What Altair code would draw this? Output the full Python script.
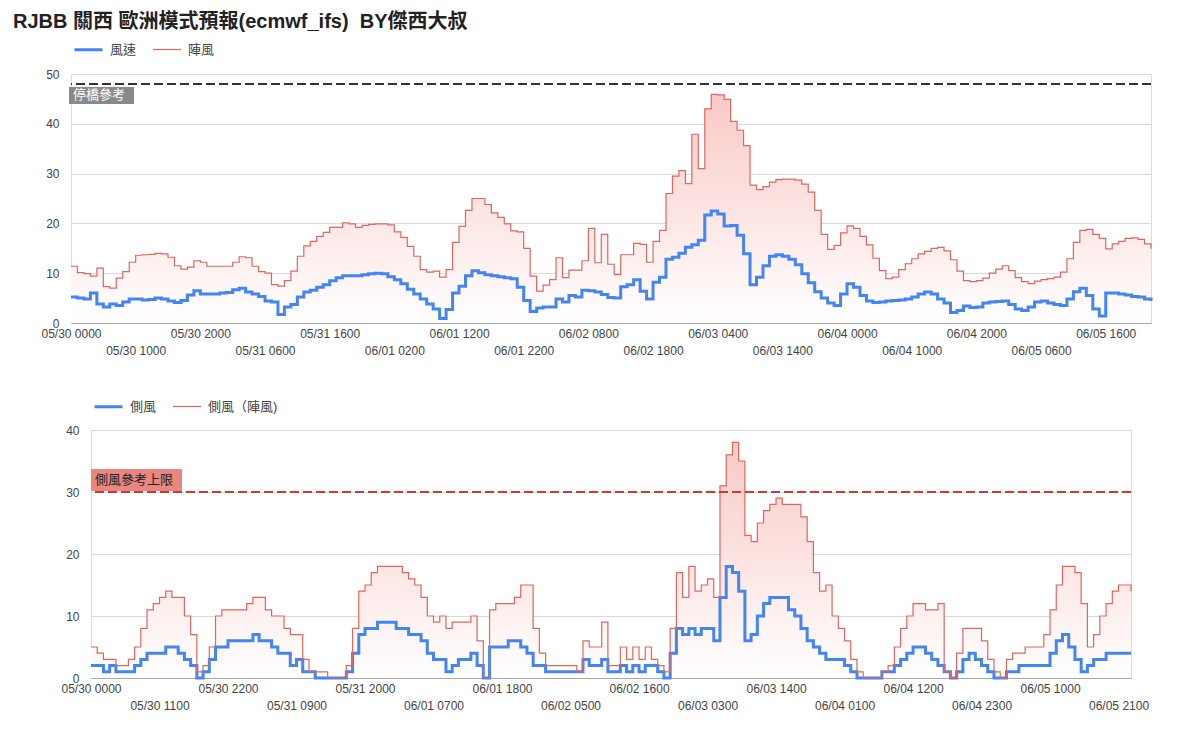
import json
import altair as alt
import pandas as pd

# ---------------- data (hourly, 05/30 00:00 -> 06/05 23:00) ----------------
hours = list(range(168))

wind = [5.2, 5.0, 4.8, 6.0, 3.8, 3.2, 3.8, 3.5, 4.2, 4.8,
        4.8, 4.6, 4.7, 5.0, 4.8, 4.4, 4.1, 4.5, 5.6, 6.5,
        5.8, 5.8, 5.8, 6.0, 6.1, 6.7, 7.0, 6.2, 5.8, 5.3,
        4.4, 4.2, 1.7, 3.2, 3.7, 5.2, 6.2, 6.6, 7.2, 7.7,
        8.5, 9.1, 9.5, 9.5, 9.5, 9.7, 9.9, 10.0, 9.9, 9.3,
        8.7, 7.9, 6.8, 5.8, 4.8, 3.8, 2.8, 0.9, 2.7, 6.0,
        7.4, 9.5, 10.5, 10.1, 9.7, 9.5, 9.3, 9.1, 8.9, 7.2,
        4.5, 2.3, 3.0, 3.2, 3.2, 4.8, 4.2, 5.5, 5.2, 6.6,
        6.5, 6.2, 5.7, 5.1, 5.0, 7.3, 7.7, 8.7, 6.4, 4.8,
        8.2, 9.2, 12.8, 13.2, 14.0, 15.2, 15.7, 16.6, 21.7, 22.5,
        21.9, 19.5, 19.6, 17.6, 13.9, 7.7, 9.2, 11.5, 13.4, 13.7,
        13.4, 12.8, 11.7, 9.9, 8.1, 6.3, 5.0, 4.0, 3.5, 5.8,
        7.9, 7.2, 5.5, 4.4, 4.1, 4.2, 4.4, 4.5, 4.6, 4.8,
        5.2, 5.8, 6.2, 5.8, 4.8, 4.0, 2.1, 2.5, 3.4, 3.1,
        3.2, 4.0, 4.2, 4.3, 4.4, 3.7, 2.8, 2.5, 3.2, 4.2,
        4.4, 4.0, 3.7, 3.5, 4.8, 6.3, 7.0, 5.5, 2.8, 1.4,
        6.0, 6.0, 5.8, 5.6, 5.3, 5.2, 4.8, 4.4]

gust = [11.4, 10.1, 9.9, 9.4, 11.0, 7.3, 7.0, 9.0, 10.3, 12.2,
        13.6, 13.7, 13.8, 14.0, 13.9, 13.2, 11.5, 10.8, 11.2, 12.5,
        12.2, 11.4, 11.4, 11.4, 11.4, 12.2, 13.3, 13.1, 11.4, 10.3,
        10.0, 7.7, 7.4, 8.5, 10.4, 13.4, 15.5, 16.4, 17.4, 18.2,
        19.2, 19.2, 20.1, 19.9, 19.2, 19.6, 19.8, 19.9, 19.9, 19.7,
        18.3, 17.2, 15.4, 13.4, 10.7, 10.2, 10.4, 9.2, 10.7, 16.2,
        19.4, 22.6, 25.0, 25.0, 23.8, 22.1, 21.2, 19.9, 18.5, 18.3,
        15.0, 9.4, 6.4, 7.6, 8.7, 13.1, 9.1, 10.6, 10.6, 12.5,
        19.0, 12.1, 17.8, 11.8, 9.7, 13.7, 13.7, 16.0, 15.8, 12.2,
        16.4, 18.6, 26.0, 29.5, 30.6, 28.0, 37.9, 31.0, 43.0, 45.9,
        45.8, 44.9, 40.5, 38.7, 35.6, 27.7, 26.8, 27.4, 28.3, 28.8,
        28.9, 28.9, 28.7, 27.9, 26.3, 22.6, 17.8, 14.8, 15.6, 18.1,
        19.5, 19.0, 17.4, 15.7, 13.0, 10.5, 8.9, 9.2, 10.7, 11.9,
        12.9, 13.9, 14.4, 15.0, 15.2, 14.5, 12.7, 10.4, 8.5, 8.3,
        8.5, 9.0, 10.0, 10.8, 11.5, 10.5, 9.1, 8.3, 7.9, 8.4,
        8.7, 8.9, 9.2, 10.2, 12.9, 16.2, 18.6, 18.8, 17.8, 17.0,
        14.9, 15.9, 16.4, 17.0, 17.1, 16.8, 15.9, 14.9]

side = [2, 2, 1, 2, 1, 1, 1, 2, 3, 4,
        4, 4, 5, 5, 4, 3, 2, 0, 1, 3,
        5, 5, 6, 6, 6, 6, 7, 6, 6, 5,
        4, 4, 2, 3, 1, 1, 0, 0, 0, 0,
        0, 1, 4, 7, 8, 8, 9, 9, 9, 8,
        8, 7, 7, 6, 4, 3, 3, 1, 2, 3,
        3, 4, 2, 0, 5, 5, 5, 6, 6, 5,
        4, 2, 2, 1, 1, 1, 1, 1, 1, 3,
        2, 2, 3, 1, 1, 2, 1, 2, 1, 2,
        2, 1, 0, 4, 8, 7, 8, 7, 8, 8,
        6, 13, 18, 17, 14, 6, 7, 10, 12, 13,
        13, 13, 11, 10, 8, 6, 5, 4, 3, 3,
        3, 2, 1, 0, 0, 0, 0, 1, 1, 2,
        3, 4, 5, 5, 4, 3, 2, 1, 0, 1,
        3, 4, 3, 2, 1, 0, 0, 1, 1, 2,
        2, 2, 2, 2, 4, 6, 7, 5, 3, 1,
        2, 3, 3, 4, 4, 4, 4, 4]

side_gust = [5, 4, 3, 3, 2, 2, 3, 5, 8, 11,
             12, 13, 14, 13, 13, 10, 7, 1, 2, 5,
             10, 11, 11, 11, 11, 12, 13, 13, 11, 10,
             10, 8, 7, 7, 3, 1, 1, 1, 0, 0,
             0, 2, 8, 14, 15, 17, 18, 18, 18, 18,
             17, 16, 15, 13, 10, 9, 10, 8, 9, 9,
             9, 10, 6, 0, 11, 12, 12, 12, 13, 15,
             15, 8, 4, 2, 2, 2, 2, 2, 1, 6,
             5, 5, 9, 2, 2, 5, 3, 5, 3, 5,
             3, 2, 1, 8, 17, 13, 18, 14, 15, 16,
             13, 31, 36, 38, 35, 23, 22, 25, 27, 28,
             29, 28, 28, 28, 26, 22, 17, 14, 15, 10,
             8, 6, 3, 1, 0, 0, 0, 1, 2, 5,
             8, 10, 12, 12, 11, 11, 12, 1, 0, 4,
             8, 8, 8, 6, 3, 1, 0, 3, 4, 4,
             5, 5, 5, 7, 11, 15, 18, 18, 17, 12,
             5, 7, 10, 12, 14, 15, 15, 14]

top_tick_hours = [0, 10, 20, 30, 40, 50, 60, 70, 80, 90, 100, 110, 120, 130, 140, 150, 160]
top_tick_labels = ["05/30 0000", "05/30 1000", "05/30 2000", "05/31 0600", "05/31 1600",
                   "06/01 0200", "06/01 1200", "06/01 2200", "06/02 0800", "06/02 1800",
                   "06/03 0400", "06/03 1400", "06/04 0000", "06/04 1000", "06/04 2000",
                   "06/05 0600", "06/05 1600"]
bot_tick_hours = [0, 11, 22, 33, 44, 55, 66, 77, 88, 99, 110, 121, 132, 143, 154, 165]
bot_tick_labels = ["05/30 0000", "05/30 1100", "05/30 2200", "05/31 0900", "05/31 2000",
                   "06/01 0700", "06/01 1800", "06/02 0500", "06/02 1600", "06/03 0300",
                   "06/03 1400", "06/04 0100", "06/04 1200", "06/04 2300", "06/05 1000",
                   "06/05 2100"]

top_series = ["風速", "陣風"]
bot_series = ["側風", "側風（陣風)"]
bridge_ref = [48]
bridge_label = ["停橋參考"]
side_ref = [30]
side_label = ["側風參考上限"]
title_text = ["RJBB 關西 歐洲模式預報(ecmwf_ifs) \u00a0BY傑西大叔"]

# ---------------- styling ----------------
FONT = "Liberation Sans, Arial, Noto Sans CJK TC, sans-serif"
BLUE = "#4285f4"
RED = "#e0675f"
GRID = "#dadada"
LBL = "#444444"

grad = alt.Gradient(
    gradient="linear",
    stops=[alt.GradientStop(color="#f9c9c5", offset=0),
           alt.GradientStop(color="#ffffff", offset=1)],
    x1=1, x2=1, y1=0, y2=1,
)


def x_label_expr(vals, labels):
    V = json.dumps(vals)
    L = json.dumps(labels, ensure_ascii=False)
    i = f"indexof({V}, datum.value)"
    return f"{i} < 0 ? '' : ({i} % 2 == 1 ? ['', {L}[{i}]] : {L}[{i}])"


def make_panel(values_a, values_b, series, tick_hours, tick_labels, ymax, ref, ref_label,
               ref_dash_color, box_color, box_text_color, box_w, box_above,
               width, height, legend_x, legend_y):
    n = len(hours)
    lines_df = pd.DataFrame({
        "h": hours + hours,
        "value": values_a + values_b,
        "series": [series[0]] * n + [series[1]] * n,
    })
    area_df = pd.DataFrame({"h": hours, "value": values_b})

    xscale = alt.Scale(domain=[0, hours[-1]], nice=False, zero=False)
    yscale = alt.Scale(domain=[0, ymax], nice=False)
    xaxis = alt.Axis(values=tick_hours, labelExpr=x_label_expr(tick_hours, tick_labels),
                     ticks=False, grid=False, labelPadding=5, labelLineHeight=17,
                     labelFontSize=12, labelColor=LBL, labelFont=FONT, labelFlush=False,
                     labelOverlap=False, domainColor="#a8a8a8", title=None)
    yaxis = alt.Axis(values=list(range(0, ymax + 1, 5)),
                     labelExpr="datum.value % 10 == 0 ? datum.label : ''",
                     ticks=False, domain=False, gridColor=GRID, labelPadding=12,
                     labelFontSize=12, labelColor=LBL, labelFont=FONT, title=None)

    area = alt.Chart(area_df).mark_area(interpolate="step-after", color=grad).encode(
        x=alt.X("h:Q", scale=xscale, axis=xaxis),
        y=alt.Y("value:Q", scale=yscale, axis=yaxis),
    )

    legend = alt.Legend(orient="none", legendX=legend_x, legendY=legend_y, direction="horizontal",
                        title=None, symbolType="stroke", symbolSize=784,
                        labelFont=FONT, labelFontSize=13, labelColor=LBL,
                        labelOffset=6, columnPadding=13, padding=0)
    lines = alt.Chart(lines_df).mark_line(interpolate="step-after").encode(
        x=alt.X("h:Q", scale=xscale),
        y=alt.Y("value:Q", scale=yscale),
        color=alt.Color("series:N", scale=alt.Scale(domain=series, range=[BLUE, RED]),
                        sort=series, legend=legend),
        strokeWidth=alt.StrokeWidth("series:N", scale=alt.Scale(domain=series, range=[3, 1.2]),
                                    sort=series, legend=legend),
        order=alt.Order("ord:Q"),
    ).transform_calculate(ord=f"datum.series == '{series[0]}' ? 0 : 1")

    ref_df = pd.DataFrame({"v": ref, "lbl": ref_label})
    rule = alt.Chart(ref_df).mark_rule(color=ref_dash_color, strokeWidth=2,
                                       strokeDash=[9, 4]).encode(y=alt.Y("v:Q", scale=yscale))
    if box_above:
        box = alt.Chart(ref_df).mark_rect(color=box_color, yOffset=-23, y2Offset=-1).encode(
            x=alt.value(0), x2=alt.value(box_w), y=alt.Y("v:Q", scale=yscale), y2="v:Q")
        txt = alt.Chart(ref_df).mark_text(align="left", baseline="middle", dy=-12,
                                          font=FONT, fontSize=13, color=box_text_color).encode(
            x=alt.value(4), y=alt.Y("v:Q", scale=yscale), text="lbl:N")
    else:
        box = alt.Chart(ref_df).mark_rect(color=box_color, yOffset=3, y2Offset=20).encode(
            x=alt.value(-2), x2=alt.value(box_w), y=alt.Y("v:Q", scale=yscale), y2="v:Q")
        txt = alt.Chart(ref_df).mark_text(align="left", baseline="middle", dy=11.5,
                                          font=FONT, fontSize=13, color=box_text_color).encode(
            x=alt.value(2), y=alt.Y("v:Q", scale=yscale), text="lbl:N")

    return alt.layer(area, lines, rule, box, txt).properties(width=width, height=height)


top = make_panel(wind, gust, top_series, top_tick_hours, top_tick_labels, 50,
                 bridge_ref, bridge_label, "#333333", "#8a8a8a", "#ffffff", 63, False,
                 1080, 249, 2, -40)

title_layer = alt.Chart(pd.DataFrame({"t": title_text})).mark_text(
    align="left", baseline="top", font=FONT, fontSize=20, fontWeight="bold", color="#222222"
).encode(x=alt.value(-58), y=alt.value(-62), text="t:N")

top = alt.layer(top, title_layer)

bottom = make_panel(side, side_gust, bot_series, bot_tick_hours, bot_tick_labels, 40,
                    side_ref, side_label, "#cc3b33", "#e8877f", "#222222", 91, True,
                    1040, 248, 2, -39)

chart = alt.vconcat(top, bottom, spacing=107, center=True, bounds="flush").resolve_scale(
    color="independent", strokeWidth="independent"
).properties(
    padding={"left": 12, "top": 11, "right": 5, "bottom": 5}
).configure_view(stroke=None).configure(font=FONT)

chart.save("out.html", embed_options={"renderer": "svg", "actions": False})
